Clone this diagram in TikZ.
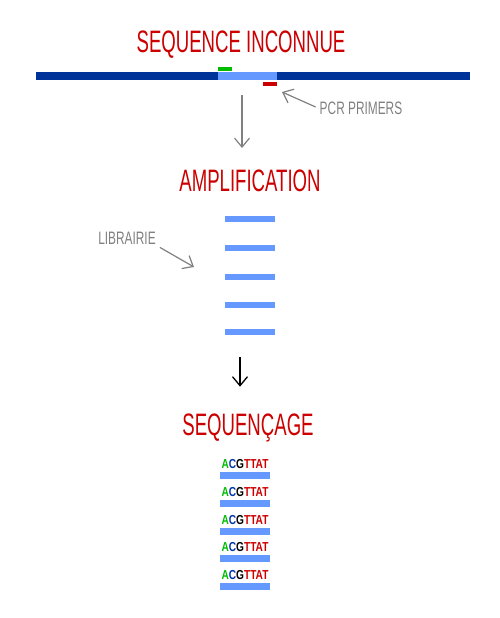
\documentclass[tikz,border=0pt]{standalone}
\usepackage{fontspec}
\setmainfont{Liberation Sans}
\usetikzlibrary{arrows.meta,positioning}
\definecolor{seqRed}{HTML}{CC0000}
\definecolor{seqGrey}{HTML}{808080}
\definecolor{seqDark}{HTML}{003399}
\definecolor{seqLight}{HTML}{6699FF}
\definecolor{seqGreen}{HTML}{00BB00}
\definecolor{seqBlue}{HTML}{0033AA}
\tikzset{
  steptitle/.style={font=\fontsize{31}{31}\selectfont, text=seqRed, xscale=0.6, inner sep=0},
  note/.style={font=\fontsize{18}{18}\selectfont, text=seqGrey, xscale=0.66, inner sep=0},
  strand/.style={fill=seqLight, minimum width=50pt, minimum height=6.5pt, inner sep=0},
  primer/.style={minimum width=14pt, minimum height=4pt, inner sep=0},
  readtxt/.style={font=\bfseries\fontsize{13}{13}\selectfont, xscale=0.78, inner sep=0},
  pointer/.style={-{Straight Barb[length=9pt,width=15pt]}, line width=1.2pt, seqGrey},
  mainflow/.style={-{Straight Barb[length=9pt,width=15pt]}, line width=1.3pt, black}
}
\newcommand{\acgt}{{\color{seqGreen}A}{\color{seqBlue}C}{\color{black}G}{\color{seqRed}TTAT}}

\begin{document}
\begin{tikzpicture}[x=1pt, y=1pt]
  \useasboundingbox (0,0) rectangle (500,-618);
  % unknown sequence with the amplified region
  \node[steptitle] (inconnue) at (241,-45) {SEQUENCE INCONNUE};
  \draw[seqDark, line width=8pt] (36,-76) coordinate (left) -- (470,-76) coordinate (right);
  \node[fill=seqLight, minimum width=59pt, minimum height=8pt, inner sep=0] (target) at (247.5,-76) {};
  \node[primer, fill=seqGreen] (fwd) at (225,-69) {};
  \node[primer, fill=seqRed] (rev) at (270,-84) {};
  \node[note] (primers) at (361,-108) {PCR PRIMERS};
  \draw[pointer] (primers.west) ++(-4,1) -- (282,-92);
  \coordinate (down1) at (242,-95);
  \node[steptitle] (ampli) at (250,-181) {AMPLIFICATION};
  \draw[pointer] (down1) -- (242,-148);

  % library of amplicons
  \foreach \i/\y in {1/219,2/248,3/277,4/305,5/332}
    \node[strand] (amp\i) at (250,-\y) {};
  \node[note] (lib) at (127,-238) {LIBRAIRIE};
  \draw[pointer] (lib.south east) ++(4,-3) -- (194,-267);
  \node[steptitle] (sequencage) at (248,-428) {SEQUENÇAGE};
  \draw[mainflow] (amp5.south) ++(-10,-22) -- ([xshift=-8pt, yshift=27pt]sequencage.north);

  % reads
  \foreach \i/\y in {1/464,2/492,3/520,4/547,5/575}{
    \node[readtxt] (read\i) at (245,-\y) {\acgt};
    \node[strand, below=3pt of read\i] (bar\i) {};
  }
\end{tikzpicture}
\end{document}
